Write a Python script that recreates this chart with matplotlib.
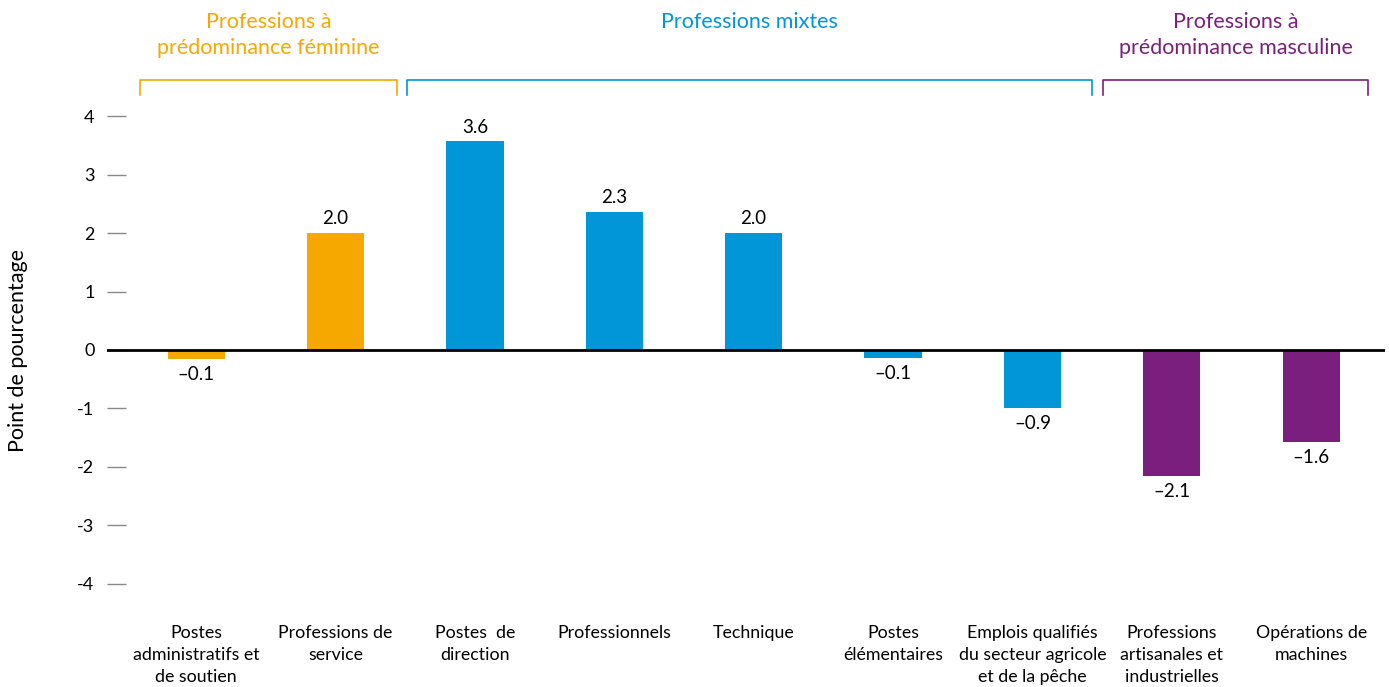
import matplotlib.pyplot as plt
import numpy as np

plt.rcParams['font.family'] = ['Lato', 'DejaVu Sans']

# Data
categories = [
    "Postes\nadministratifs et\nde soutien",
    "Professions de\nservice",
    "Postes  de\ndirection",
    "Professionnels",
    "Technique",
    "Postes\nélémentaires",
    "Emplois qualifiés\ndu secteur agricole\net de la pêche",
    "Professions\nartisanales et\nindustrielles",
    "Opérations de\nmachines",
]
values = [-0.15, 2.0, 3.57, 2.36, 2.0, -0.14, -0.99, -2.15, -1.57]
value_labels = ["–0.1", "2.0", "3.6", "2.3", "2.0", "–0.1", "–0.9", "–2.1", "–1.6"]
groups = ["f", "f", "m", "m", "m", "m", "m", "h", "h"]

group_titles = {
    "f": "Professions à\nprédominance féminine",
    "m": "Professions mixtes",
    "h": "Professions à\nprédominance masculine",
}
colors = {"f": "#F6A800", "m": "#0096D8", "h": "#7B1F7E"}
brackets = {"f": (-0.4, 1.44), "m": (1.51, 6.43), "h": (6.51, 8.41)}

fig = plt.figure(figsize=(13.89, 6.87), dpi=100)
ax = fig.add_axes([107 / 1389, 85.5 / 687, (1385 - 107) / 1389, 503 / 687])

x = np.arange(len(categories))
bar_colors = [colors[g] for g in groups]
ax.bar(x, values, width=0.41, color=bar_colors, zorder=2)

# zero line
ax.axhline(0, color='black', linewidth=2, zorder=3)

# value labels
for xi, v, lab in zip(x, values, value_labels):
    if v >= 0:
        ax.annotate(lab, (xi, v), xytext=(0, 4), textcoords='offset points',
                    ha='center', va='bottom', fontsize=13.5)
    else:
        ax.annotate(lab, (xi, v), xytext=(0, -5), textcoords='offset points',
                    ha='center', va='top', fontsize=13.5)

# group brackets and titles
for g, (x0, x1) in brackets.items():
    ax.plot([x0, x0, x1, x1], [4.36, 4.62, 4.62, 4.36], color=colors[g],
            linewidth=1.2, clip_on=False)
    ax.text((x0 + x1) / 2, 5.78, group_titles[g], color=colors[g], ha='center',
            va='top', fontsize=15.5, linespacing=1.38, clip_on=False)

ax.set_xlim(-0.64, 8.53)
ax.set_ylim(-4.3, 4.3)
ax.set_yticks(range(-4, 5))
ax.set_yticklabels([str(t) for t in range(-4, 5)], fontsize=13)
ax.tick_params(axis='y', direction='in', length=14, width=1, color='#888888', pad=9)

ax.set_xticks(x)
ax.set_xticklabels(categories, fontsize=12.8, linespacing=1.45)
ax.tick_params(axis='x', length=0, pad=17)

for s in ax.spines.values():
    s.set_visible(False)

fig.text(18 / 1389, 1 - 350 / 687, "Point de pourcentage", rotation=90,
         ha='center', va='center', fontsize=15.5)

fig.savefig("out.png", dpi=100)
